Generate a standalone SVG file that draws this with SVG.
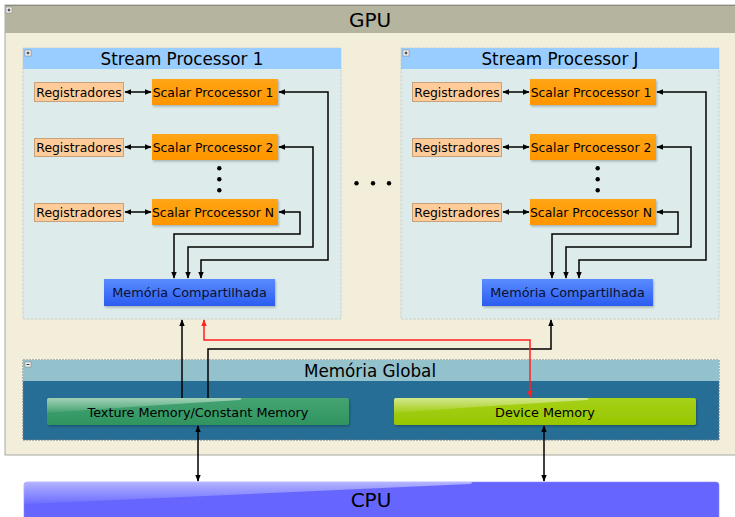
<svg xmlns="http://www.w3.org/2000/svg" width="735" height="517" viewBox="0 0 735 517">
<style>
text{font-family:"DejaVu Sans","Liberation Sans",sans-serif;fill:#000;text-anchor:middle}
.t12{font-size:12.4px}
.t125{font-size:12.8px}
.tt{font-size:16.8px}
.reg{fill:#ffcc99;stroke:#c9a27a;stroke-width:1}
.sc{fill:url(#gOr)}
.c{fill:none;stroke:#000;stroke-width:1.5}
.r{fill:none;stroke:#ff2020;stroke-width:1.5}
.ic{fill:#f4f4f4;stroke:#888;stroke-width:0.6}
.icl{stroke:#000;stroke-width:0.8}
.gl{fill:url(#gGloss)}
</style>
<defs>
<marker id="ah" viewBox="0 0 10 10" refX="9" refY="5" markerWidth="7" markerHeight="7" markerUnits="userSpaceOnUse" orient="auto-start-reverse"><path d="M0,1 L10,5 L0,9 z" fill="#000"/></marker>
<marker id="ahr" viewBox="0 0 10 10" refX="9" refY="5" markerWidth="7" markerHeight="7" markerUnits="userSpaceOnUse" orient="auto-start-reverse"><path d="M0,1 L10,5 L0,9 z" fill="#ff2020"/></marker>
<linearGradient id="gOr" x1="0" y1="0" x2="0" y2="1"><stop offset="0" stop-color="#ffa515"/><stop offset="1" stop-color="#ff9500"/></linearGradient>
<linearGradient id="gBl" x1="0" y1="0" x2="0" y2="1"><stop offset="0" stop-color="#5a8cff"/><stop offset="1" stop-color="#2a5cf0"/></linearGradient>
<linearGradient id="gGr" x1="0" y1="0" x2="0" y2="1"><stop offset="0" stop-color="#45a472"/><stop offset="1" stop-color="#2f9460"/></linearGradient>
<linearGradient id="gLm" x1="0" y1="0" x2="0" y2="1"><stop offset="0" stop-color="#a6d118"/><stop offset="1" stop-color="#98c600"/></linearGradient>
<linearGradient id="gGloss" x1="0" y1="0" x2="0" y2="1"><stop offset="0" stop-color="#fff" stop-opacity="0.5"/><stop offset="1" stop-color="#fff" stop-opacity="0.05"/></linearGradient>
<filter id="sh" x="-5%" y="-20%" width="110%" height="150%"><feDropShadow dx="1" dy="1.5" stdDeviation="1" flood-color="#000" flood-opacity="0.25"/></filter>
</defs>

<g id="gpu">
<rect x="5" y="5" width="740" height="450" fill="#f2eed9" stroke="#a8a8a0" stroke-width="1"/>
<rect x="5" y="5" width="740" height="28" fill="#b5b49e"/>
<line x1="5" y1="5.5" x2="735" y2="5.5" stroke="#8a8a80"/>
<rect class="ic" x="6" y="7" width="6" height="6"/><line class="icl" x1="7.5" y1="10" x2="10.5" y2="10"/><line class="icl" x1="9" y1="8.5" x2="9" y2="11.5"/>
<text x="370" y="27" style="font-size:20px">GPU</text>
</g>

<g id="sp1">
<rect x="23" y="48" width="318" height="271" fill="#ddeceb" stroke="#c6d2d2" stroke-dasharray="3 1"/>
<rect x="23" y="48" width="318" height="21" fill="#99ccff"/>
<rect class="ic" x="25" y="50" width="6" height="6"/><line class="icl" x1="26.5" y1="53" x2="29.5" y2="53"/><line class="icl" x1="28" y1="51.5" x2="28" y2="54.5"/>
<text class="tt" x="182" y="65">Stream Processor 1</text>
</g>

<g id="spj">
<rect x="401" y="48" width="318" height="271" fill="#ddeceb" stroke="#c6d2d2" stroke-dasharray="3 1"/>
<rect x="401" y="48" width="318" height="21" fill="#99ccff"/>
<rect class="ic" x="403" y="50" width="6" height="6"/><line class="icl" x1="404.5" y1="53" x2="407.5" y2="53"/><line class="icl" x1="406" y1="51.5" x2="406" y2="54.5"/>
<text class="tt" x="560" y="65">Stream Processor J</text>
</g>

<g id="sp1-reg1"><rect class="reg" x="34.5" y="82.5" width="89" height="19"/><text class="t12" x="79" y="96.5">Registradores</text></g>
<g id="sp1-reg2"><rect class="reg" x="34.5" y="138.5" width="89" height="18"/><text class="t12" x="79" y="151.5">Registradores</text></g>
<g id="sp1-regN"><rect class="reg" x="34.5" y="203.5" width="89" height="18"/><text class="t12" x="79" y="216.5">Registradores</text></g>
<g id="sp1-sc1"><rect class="sc" x="152" y="79" width="126" height="26" filter="url(#sh)"/><text class="t12" x="213" y="96.5">Scalar Prcocessor 1</text></g>
<g id="sp1-sc2"><rect class="sc" x="152" y="134" width="126" height="26" filter="url(#sh)"/><text class="t12" x="213" y="151.5">Scalar Prcocessor 2</text></g>
<g id="sp1-scN"><rect class="sc" x="152" y="199" width="126" height="26" filter="url(#sh)"/><text class="t12" x="213" y="216.5">Scalar Prcocessor N</text></g>
<g id="sp1-dots"><circle cx="219.3" cy="168.3" r="2.2"/><circle cx="219.3" cy="179.3" r="2.2"/><circle cx="219.3" cy="190.3" r="2.2"/></g>
<g id="sp1-mem"><rect x="104" y="279" width="171" height="27" fill="url(#gBl)" filter="url(#sh)"/><text class="t125" x="189.5" y="297" style="fill:#0a0f30">Memória Compartilhada</text></g>

<g id="spj-reg1"><rect class="reg" x="412.5" y="82.5" width="89" height="19"/><text class="t12" x="457" y="96.5">Registradores</text></g>
<g id="spj-reg2"><rect class="reg" x="412.5" y="138.5" width="89" height="18"/><text class="t12" x="457" y="151.5">Registradores</text></g>
<g id="spj-regN"><rect class="reg" x="412.5" y="203.5" width="89" height="18"/><text class="t12" x="457" y="216.5">Registradores</text></g>
<g id="spj-sc1"><rect class="sc" x="530" y="79" width="126" height="26" filter="url(#sh)"/><text class="t12" x="591" y="96.5">Scalar Prcocessor 1</text></g>
<g id="spj-sc2"><rect class="sc" x="530" y="134" width="126" height="26" filter="url(#sh)"/><text class="t12" x="591" y="151.5">Scalar Prcocessor 2</text></g>
<g id="spj-scN"><rect class="sc" x="530" y="199" width="126" height="26" filter="url(#sh)"/><text class="t12" x="591" y="216.5">Scalar Prcocessor N</text></g>
<g id="spj-dots"><circle cx="597.7" cy="168.3" r="2.2"/><circle cx="597.7" cy="179.3" r="2.2"/><circle cx="597.7" cy="190.3" r="2.2"/></g>
<g id="spj-mem"><rect x="482" y="279" width="171" height="27" fill="url(#gBl)" filter="url(#sh)"/><text class="t125" x="567.5" y="297" style="fill:#0a0f30">Memória Compartilhada</text></g>

<g id="ellipsis"><circle cx="356.5" cy="183.3" r="2.2"/><circle cx="373" cy="183.3" r="2.2"/><circle cx="389" cy="183.3" r="2.2"/></g>

<g id="global">
<rect x="23" y="360" width="696" height="80" fill="#266e96" stroke="#6f7f88" stroke-dasharray="2 1"/>
<rect x="23" y="360" width="696" height="21" fill="#93c1cc"/>
<rect class="ic" x="25" y="362" width="6" height="5"/><line class="icl" x1="26.5" y1="364.5" x2="29.5" y2="364.5"/>
<text class="tt" x="370" y="377">Memória Global</text>
</g>
<g id="texture"><rect x="47" y="398" width="302" height="27" rx="2" fill="url(#gGr)" filter="url(#sh)"/><path class="gl" d="M49,398 H240 Q243,398 240,400 Q140,406 47,413 V400 Q47,398 49,398 Z"/><text class="t125" x="198" y="416.5">Texture Memory/Constant Memory</text></g>
<g id="device"><rect x="394" y="398" width="302" height="27" rx="2" fill="url(#gLm)" filter="url(#sh)"/><path class="gl" d="M396,398 H587 Q590,398 587,400 Q487,406 394,413 V400 Q394,398 396,398 Z"/><text class="t125" x="545" y="416.5">Device Memory</text></g>

<g id="cpu"><rect x="24" y="482" width="695" height="45" rx="3" fill="#6666ff" stroke="#8a8aff" stroke-width="0.6"/><path class="gl" d="M27,482 H470 Q475,482 470,484 Q250,494 24,504 V485 Q24,482 27,482 Z"/><text x="371" y="507" style="font-size:20px">CPU</text></g>

<g id="connectors">
<path class="c" d="M125,92 H151" marker-start="url(#ah)" marker-end="url(#ah)"/>
<path class="c" d="M125,147 H151" marker-start="url(#ah)" marker-end="url(#ah)"/>
<path class="c" d="M125,212 H151" marker-start="url(#ah)" marker-end="url(#ah)"/>
<path class="c" d="M279,92 H328 V260 H201 V278" marker-start="url(#ah)" marker-end="url(#ah)"/>
<path class="c" d="M279,147 H313 V247 H188 V278" marker-start="url(#ah)" marker-end="url(#ah)"/>
<path class="c" d="M279,212 H300 V234 H174 V278" marker-start="url(#ah)" marker-end="url(#ah)"/>

<path class="c" d="M503,92 H529" marker-start="url(#ah)" marker-end="url(#ah)"/>
<path class="c" d="M503,147 H529" marker-start="url(#ah)" marker-end="url(#ah)"/>
<path class="c" d="M503,212 H529" marker-start="url(#ah)" marker-end="url(#ah)"/>
<path class="c" d="M657,92 H706 V260 H579 V278" marker-start="url(#ah)" marker-end="url(#ah)"/>
<path class="c" d="M657,147 H691 V247 H566 V278" marker-start="url(#ah)" marker-end="url(#ah)"/>
<path class="c" d="M657,212 H678 V234 H552 V278" marker-start="url(#ah)" marker-end="url(#ah)"/>

<path class="c" d="M182,398 V320" marker-end="url(#ah)"/>
<path class="c" d="M208,398 V349 H551 V320" marker-end="url(#ah)"/>
<path class="r" d="M204,320 V340 H530 V397" marker-start="url(#ahr)" marker-end="url(#ahr)"/>
<path class="c" d="M198,426 V481" marker-start="url(#ah)" marker-end="url(#ah)"/>
<path class="c" d="M544,426 V481" marker-start="url(#ah)" marker-end="url(#ah)"/>
</g>
</svg>
